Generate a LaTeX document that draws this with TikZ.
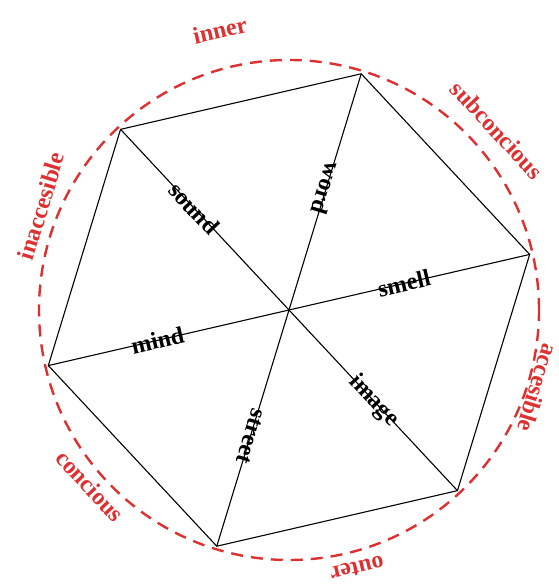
\documentclass[tikz,border=0pt]{standalone}
\usepackage{fontspec}
\setmainfont{Liberation Serif}
\usetikzlibrary{calc}
\definecolor{lred}{RGB}{222,48,48}
\begin{document}
\begin{tikzpicture}[x=1pt,y=1pt,
  edge/.style={black,line width=1.1pt},
  ring/.style={lred,line width=2.4pt,dash pattern=on 12pt off 8pt},
  spokelab/.style={font=\fontsize{24}{24}\selectfont\bfseries,inner sep=0pt},
  outlab/.style={font=\fontsize{24}{24}\selectfont\bfseries,text=lred,inner sep=0pt}]
\useasboundingbox (0,0) rectangle (558,585);
\coordinate (c) at (289,275);
\foreach \i/\a in {1/13,2/73,3/133,4/193,5/253,6/313}
  \coordinate (v\i) at ($(c)+(\a:247)$);
\draw[ring] (c) circle (250);
\draw[edge] (v1)--(v2)--(v3)--(v4)--(v5)--(v6)--cycle;
\draw[edge] (v1)--(v4);
\draw[edge] (v2)--(v5);
\draw[edge] (v3)--(v6);
% spoke labels
\node[spokelab,rotate=13]  (smell)  at ($(c)+(13:118)$) {smell};
\node[spokelab,rotate=-107] (word)  at ($(c)+(73:127)$) {word};
\node[spokelab,rotate=-47] (sound)  at ($(c)+(133:139)$) {sound};
\node[spokelab,rotate=13]  (mind)   at ($(c)+(193:135)$) {mind};
\node[spokelab,rotate=-107] (street) at ($(c)+(253:132)$) {street};
\node[spokelab,rotate=-47] (image)  at ($(c)+(313:124)$) {image};
% outer labels
\node[outlab,rotate=13]   (inner) at (220,555) {inner};
\node[outlab,rotate=-47]  (subc)  at (497,455) {subconcious};
\node[outlab,rotate=-107] (acc)   at (538,197) {accesible};
\node[outlab,rotate=193]  (outer) at (357,17) {outer};
\node[outlab,rotate=-47]  (conc)  at (90,99) {concious};
\node[outlab,rotate=73]   (inacc) at (41,379) {inaccesible};
\end{tikzpicture}
\end{document}
